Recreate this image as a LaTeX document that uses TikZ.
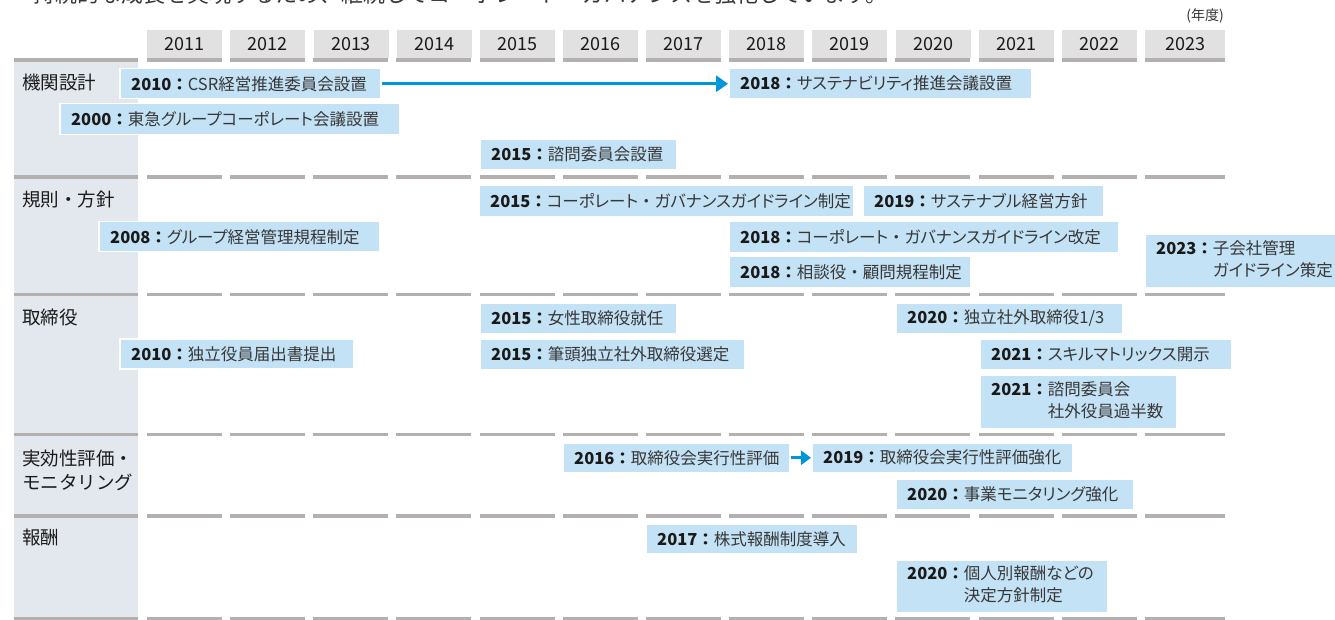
\documentclass[tikz,border=0pt]{standalone}
\usepackage{fontspec}
\setmainfont{Noto Sans CJK JP}
\newfontfamily\jpp[RawFeature=+palt]{Noto Sans CJK JP}
\usetikzlibrary{arrows.meta}
\definecolor{evfill}{RGB}{196,226,245}
\definecolor{hdrfill}{RGB}{226,225,226}
\definecolor{barc}{RGB}{180,176,176}
\definecolor{leftc}{RGB}{227,232,239}
\definecolor{arrc}{RGB}{0,150,218}
\definecolor{yrc}{RGB}{26,26,26}
\definecolor{txtc}{RGB}{55,55,55}
\newcommand\fwdot{{\rmfamily ・}}
\newcommand\evbox[7]{%
  \node[ev, minimum width=#4pt, minimum height=#5pt] (#1) at (#2,#3) {};
  \node[evt] (#1t) at ([xshift=12pt]#1.west) {{\bfseries\color{yrc}#6：}{\jpp #7}};}
\begin{document}
\begin{tikzpicture}[x=1pt,y=-1pt,
  ev/.style={fill=evfill, draw=white, line width=1.5pt, anchor=north west, inner sep=0pt},
  evt/.style={anchor=west, inner sep=0pt, font=\fontsize{16.5}{22}\selectfont, text=txtc},
  hdr/.style={fill=hdrfill, anchor=north west, inner sep=0pt, minimum height=28pt, font=\fontsize{18}{18}\selectfont, text=yrc},
  lab/.style={anchor=west, inner sep=0pt, font=\fontsize{18.5}{24}\selectfont, text=yrc, align=left},
  arr/.style={draw=arrc, line width=3pt}]
\useasboundingbox (0,0) rectangle (1335,620);
\fill[white] (0,0) rectangle (1335,620);
% cut-off intro line (the reference shows only its lower edge)
\node[anchor=base west, inner sep=0pt, font=\fontsize{22}{22}\selectfont, text=txtc] (intro) at (33,3) {持続的な成長を実現するため、継続してコーポレート・ガバナンスを強化しています。};
\node[anchor=east, inner sep=0pt, font=\fontsize{14}{14}\selectfont, text=txtc] (unit) at (1224,15.5) {(年度)};
% left column
\fill[leftc] (14,59) rectangle (138,620);
% headers and separator bars
\foreach \yr [count=\i from 0] in {2011,2012,2013,2014,2015,2016,2017,2018,2019,2020,2021,2022}{
  \pgfmathsetmacro\xx{147+83.15*\i}
  \node[hdr, minimum width=75pt] (h\yr) at (\xx,30) {\yr};
  \foreach \yy in {58.5,175.5,292.5,432.5,514,617}{
    \fill[barc] (\xx,\yy) rectangle +(75,3.5);
  }
}
\node[hdr, minimum width=80pt] (h2023) at (1144.8,30) {2023};
\foreach \yy in {58.5,175.5,292.5,432.5,514,617}{
  \fill[barc] (1144.8,\yy) rectangle +(80,3.5);
  \fill[barc] (14,\yy) rectangle +(124,3.5);
}
% row labels
\node[lab] (l1) at (22,82) {機関設計};
\node[lab] (l2) at (22,199) {規則・方針};
\node[lab] (l3) at (22,317) {取締役};
\node[lab] (l4) at (22,470) {実効性評価・\\モニタリング};
\node[lab] (l5) at (22,538) {報酬};
% row 1
\evbox{a1}{119}{68}{261}{30}{2010}{CSR経営推進委員会設置}
\evbox{a2}{728}{68}{303}{30}{2018}{サステナビリティ推進会議設置}
\evbox{a3}{59}{103}{340}{31}{2000}{東急グループコーポレート会議設置}
\evbox{a4}{479}{139}{197}{30}{2015}{諮問委員会設置}
\draw[arr, -{Triangle[length=12pt,width=16pt]}] (a1.east) -- (a2.west);
% row 2
\evbox{b1}{478}{185}{375}{31}{2015}{コーポレート\fwdot ガバナンスガイドライン制定}
\evbox{b2}{862}{185}{241}{31}{2019}{サステナブル経営方針}
\evbox{b3}{98}{221}{281}{30}{2008}{グループ経営管理規程制定}
\evbox{b4}{728}{221}{390}{31}{2018}{コーポレート\fwdot ガバナンスガイドライン改定}
\evbox{b5}{728}{256}{242}{31}{2018}{相談役\fwdot 顧問規程制定}
\node[ev, minimum width=195pt, minimum height=53pt] (b6) at (1144,234) {};
\node[evt] (b6t) at ([xshift=12pt]b6.west) {\begin{tabular}{@{}l@{}l@{}}{\bfseries\color{yrc}2023：}&{\jpp 子会社管理}\\&{\jpp ガイドライン策定}\end{tabular}};
% row 3
\evbox{c1}{479}{302}{197}{31}{2015}{女性取締役就任}
\evbox{c2}{119}{338}{234}{30}{2010}{独立役員届出書提出}
\evbox{c3}{479}{338}{265}{31}{2015}{筆頭独立社外取締役選定}
\evbox{c4}{895}{302}{227}{31}{2020}{独立社外取締役1/3}
\evbox{c5}{979}{338}{252}{31}{2021}{スキルマトリックス開示}
\node[ev, minimum width=197pt, minimum height=54pt] (c6) at (979,374) {};
\node[evt] (c6t) at ([xshift=12pt]c6.west) {\begin{tabular}{@{}l@{}l@{}}{\bfseries\color{yrc}2021：}&{\jpp 諮問委員会}\\&{\jpp 社外役員過半数}\end{tabular}};
% row 4
\evbox{d1}{562}{442}{227}{30}{2016}{取締役会実行性評価}
\evbox{d2}{811}{442}{261}{30}{2019}{取締役会実行性評価強化}
\evbox{d3}{895}{478}{238}{31}{2020}{事業モニタリング強化}
\draw[arr, -{Triangle[length=10pt,width=14pt]}] (d1.east) -- (d2.west);
% row 5
\evbox{e1}{645}{523}{212}{30}{2017}{株式報酬制度導入}
\node[ev, minimum width=212pt, minimum height=53pt] (e2) at (895,559) {};
\node[evt] (e2t) at ([xshift=12pt]e2.west) {\begin{tabular}{@{}l@{}l@{}}{\bfseries\color{yrc}2020：}&{\jpp 個人別報酬などの}\\&{\jpp 決定方針制定}\end{tabular}};
\end{tikzpicture}
\end{document}
